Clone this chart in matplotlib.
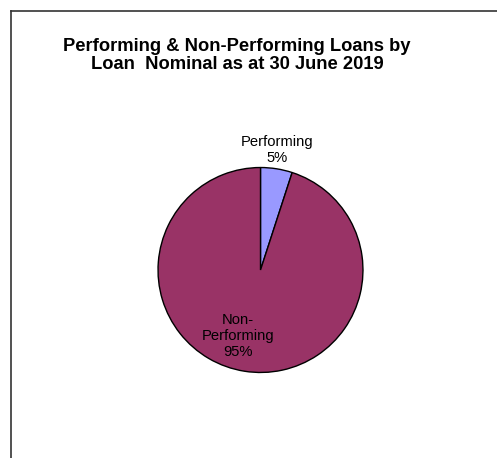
import matplotlib.pyplot as plt
from matplotlib.lines import Line2D

# data
labels = ['Performing', 'Non-\nPerforming']
shares = [5, 95]
colors = ['#9999FF', '#993366']
title = 'Performing & Non-Performing Loans by\nLoan  Nominal as at 30 June 2019'

plt.rcParams['font.family'] = ['Liberation Sans', 'DejaVu Sans']

W, H = 497, 458
fig = plt.figure(figsize=(W/100, H/100), dpi=100)

# frame lines (top and left only)
fig.add_artist(Line2D([10.5/W, 1], [1-10.5/H, 1-10.5/H], color='#333333', lw=1.2))
fig.add_artist(Line2D([10.5/W, 10.5/W], [0, 1-10.5/H], color='#333333', lw=1.2))

fig.text(237/W, 1-55.5/H, title, ha='center', va='center', fontsize=13.2, fontweight='bold',
         linespacing=1.15)

# pie axes
cx, cy, r = 260.5, 270, 103.5
ax = fig.add_axes([(cx-r)/W, (H-cy-r)/H, 2*r/W, 2*r/H])
ax.pie(shares, colors=colors, startangle=90, counterclock=False,
       wedgeprops=dict(edgecolor='black', linewidth=1))
ax.set_xlim(-1.01, 1.01)
ax.set_ylim(-1.01, 1.01)
ax.set_aspect('auto')
ax.axis('off')

label_pos = [(0.16, 1.17), (-0.22, -0.64)]
for lab, s, (x, y) in zip(labels, shares, label_pos):
    ax.text(x, y, f'{lab}\n{s}%', ha='center', va='center', fontsize=10.6,
            linespacing=1.18, clip_on=False)

fig.savefig('out.png', dpi=100)
